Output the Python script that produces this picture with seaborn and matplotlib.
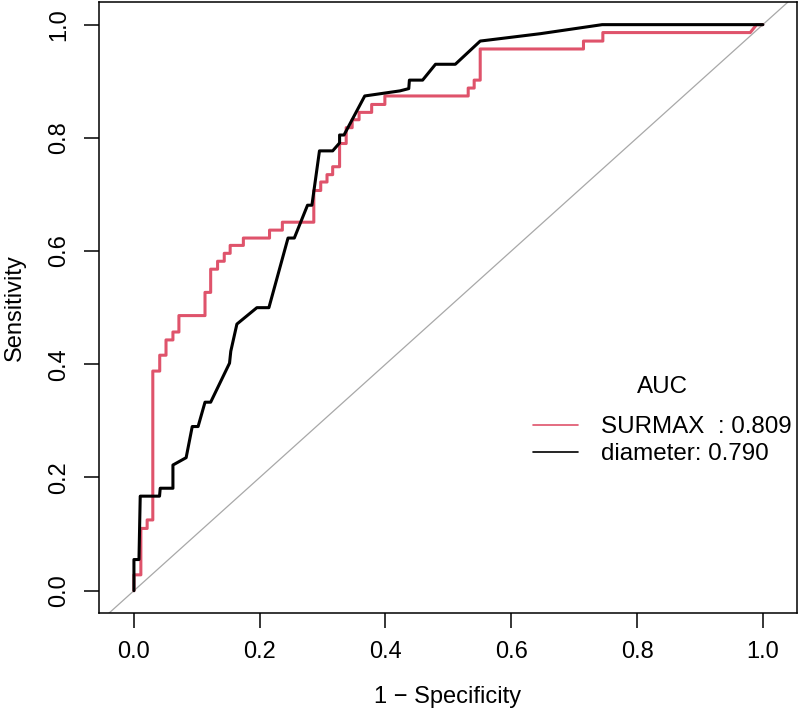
import matplotlib
matplotlib.use('Agg')
import matplotlib.pyplot as plt
import seaborn as sns
from matplotlib.lines import Line2D

sns.set_style('ticks')
plt.rcParams['font.family'] = ['Liberation Sans', 'DejaVu Sans']
plt.rcParams['text.color'] = 'black'
plt.rcParams['axes.labelcolor'] = 'black'

# ROC curve vertices (1 - specificity, sensitivity)
surmax_fpr = [0, 0, 0.011, 0.011, 0.021, 0.021, 0.030, 0.030, 0.041, 0.041,
              0.051, 0.051, 0.062, 0.062, 0.0715, 0.0715, 0.113, 0.113, 0.122, 0.122,
              0.133, 0.133, 0.1436, 0.1436, 0.153, 0.153, 0.174, 0.174, 0.2156, 0.2156,
              0.236, 0.236, 0.286, 0.286, 0.297, 0.297, 0.307, 0.307, 0.316, 0.316,
              0.327, 0.327, 0.3375, 0.3375, 0.347, 0.347, 0.358, 0.358, 0.378, 0.378,
              0.399, 0.399, 0.5315, 0.5315, 0.541, 0.541, 0.5506, 0.5506, 0.7148, 0.7148,
              0.7456, 0.7456, 0.98, 0.99, 1.0]
surmax_tpr = [0, 0.028, 0.028, 0.110, 0.110, 0.125, 0.125, 0.388, 0.388, 0.416,
              0.416, 0.443, 0.443, 0.457, 0.457, 0.486, 0.486, 0.527, 0.527, 0.568,
              0.568, 0.582, 0.582, 0.596, 0.596, 0.610, 0.610, 0.623, 0.623, 0.637,
              0.637, 0.651, 0.651, 0.707, 0.707, 0.722, 0.722, 0.735, 0.735, 0.749,
              0.749, 0.790, 0.790, 0.818, 0.818, 0.832, 0.832, 0.845, 0.845, 0.859,
              0.859, 0.874, 0.874, 0.888, 0.888, 0.902, 0.902, 0.957, 0.957, 0.971,
              0.971, 0.986, 0.986, 1.0, 1.0]

diameter_fpr = [0, 0, 0.008, 0.010, 0.0407, 0.0418, 0.062, 0.062, 0.083, 0.0927,
                0.102, 0.113, 0.122, 0.152, 0.154, 0.1637, 0.1955, 0.2146, 0.245, 0.255,
                0.276, 0.283, 0.295, 0.316, 0.327, 0.327, 0.334, 0.367, 0.423, 0.437,
                0.438, 0.459, 0.4795, 0.511, 0.5506, 0.646, 0.7445, 1.0]
diameter_tpr = [0, 0.055, 0.055, 0.167, 0.167, 0.181, 0.181, 0.222, 0.235, 0.290,
                0.290, 0.333, 0.333, 0.402, 0.423, 0.471, 0.500, 0.500, 0.623, 0.623,
                0.681, 0.681, 0.777, 0.777, 0.791, 0.805, 0.805, 0.874, 0.883, 0.887,
                0.902, 0.902, 0.930, 0.930, 0.971, 0.984, 1.0, 1.0]

labels = ['SURMAX  : 0.809', 'diameter: 0.790']
colors = ['#DF536B', 'black']

fig = plt.figure(figsize=(8, 7.16), dpi=100)
ax = fig.add_axes([0.1234, 0.1434, 0.8726, 0.8538])

# chance line
ax.axline((0, 0), (1, 1), color='#a8a8a8', lw=0.9, zorder=1)

sns.lineplot(x=surmax_fpr, y=surmax_tpr, sort=False, estimator=None,
             color=colors[0], lw=2.2, ax=ax, zorder=2)
sns.lineplot(x=diameter_fpr, y=diameter_tpr, sort=False, estimator=None,
             color=colors[1], lw=2.2, ax=ax, zorder=3)

ax.set_xlim(-0.056, 1.054)
ax.set_ylim(-0.04, 1.04)
ticks = [0.0, 0.2, 0.4, 0.6, 0.8, 1.0]
ax.set_xticks(ticks)
ax.set_yticks(ticks)
ax.set_xticklabels([f'{t:.1f}' for t in ticks])
ax.set_yticklabels([f'{t:.1f}' for t in ticks], rotation=90, va='center')
ax.tick_params(axis='both', length=10.8, width=1.1, color='black',
               labelsize=17, labelcolor='black')
ax.tick_params(axis='x', pad=9)
ax.tick_params(axis='y', pad=10)
for sp in ax.spines.values():
    sp.set_visible(True)
    sp.set_color('black')
    sp.set_linewidth(1.1)
ax.grid(False)

ax.set_xlabel('1 \u2212 Specificity', fontsize=17, labelpad=17)
ax.set_ylabel('Sensitivity', fontsize=17, labelpad=16)

handles = [Line2D([], [], color=c, lw=1.2) for c in colors]
leg = ax.legend(handles, labels, title='AUC', loc='upper left',
                bbox_to_anchor=(0.622, 0.388), frameon=False, fontsize=17.4,
                title_fontsize=17.4, handlelength=1.85, handletextpad=0.95,
                borderpad=0, borderaxespad=0, labelspacing=0.2)
leg._legend_box.sep = 13

fig.savefig('out.png', dpi=100)
